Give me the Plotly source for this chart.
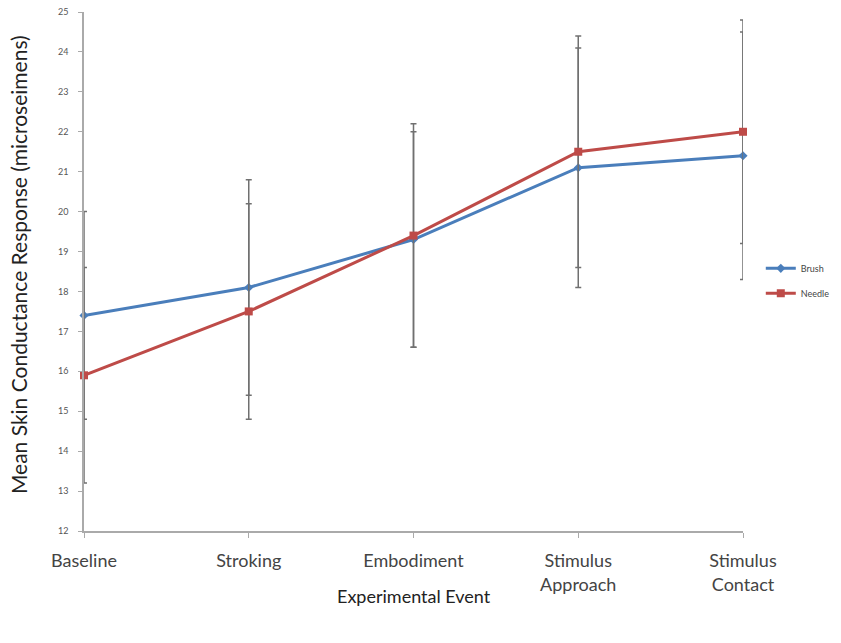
import plotly.graph_objects as go

categories = ["Baseline", "Stroking", "Embodiment", "Stimulus<br>Approach", "Stimulus<br>Contact"]
brush = [17.4, 18.1, 19.3, 21.1, 21.4]
brush_err = [2.6, 2.7, 2.7, 3.0, 3.1]
needle = [15.9, 17.5, 19.4, 21.5, 22.0]
needle_err = [2.7, 2.7, 2.8, 2.9, 2.8]
y_ticks = list(range(12, 26))

x = list(range(len(categories)))
FONT = "Lato, 'Open Sans', sans-serif"

fig = go.Figure()
fig.add_trace(go.Scatter(
    x=x, y=brush, name="Brush", mode="lines+markers", legendgroup="b",
    line=dict(color="#4a7ebb", width=3),
    marker=dict(symbol="diamond", size=7, color="#4a7ebb"),
    error_y=dict(type="data", array=brush_err, color="#707070", thickness=1.5, width=3),
    cliponaxis=False,
))
fig.add_trace(go.Scatter(
    x=x, y=needle, name="Needle", mode="lines+markers", legendgroup="n",
    line=dict(color="#be4b48", width=3),
    marker=dict(symbol="square", size=8, color="#be4b48"),
    error_y=dict(type="data", array=needle_err, color="#707070", thickness=1.5, width=3),
    cliponaxis=False,
))

fig.update_layout(
    width=841, height=643,
    margin=dict(l=76, r=106, t=4, b=120),
    paper_bgcolor="white", plot_bgcolor="white",
    font=dict(family=FONT, color="#333"),
    showlegend=True,
    legend=dict(x=1.027, y=0.482, xanchor="left", yanchor="middle",
                font=dict(size=9, color="#444"), itemwidth=30,
                bgcolor="rgba(0,0,0,0)", tracegroupgap=6),
    xaxis=dict(
        range=[0, 4], tickmode="array", tickvals=x, ticktext=categories,
        showline=True, linecolor="#aaa", linewidth=1.5,
        ticks="outside", ticklen=5, tickcolor="#aaa",
        showgrid=False, zeroline=False, ticklabelstandoff=8,
        tickfont=dict(size=18, color="#444"),
        automargin=False,
    ),
    yaxis=dict(
        range=[12, 25], tickmode="array", tickvals=y_ticks,
        showline=True, linecolor="#aaa", linewidth=1.5,
        ticks="outside", ticklen=4, tickcolor="#aaa",
        showgrid=False, zeroline=False, ticklabelstandoff=8,
        ticklabeloverflow="allow",
        tickfont=dict(size=9, color="#555"),
        automargin=False,
    ),
    annotations=[
        dict(text="Experimental Event", xref="paper", yref="paper",
             x=0.5, y=-0.125, xanchor="center", yanchor="middle",
             showarrow=False, font=dict(size=18, color="#222")),
        dict(text="Mean Skin Conductance Response (microseimens)",
             xref="paper", yref="paper", x=-0.1, y=0.5125,
             xanchor="center", yanchor="middle", textangle=-90,
             showarrow=False, font=dict(size=21, color="#222")),
    ],
)

fig.write_html("out.html")
